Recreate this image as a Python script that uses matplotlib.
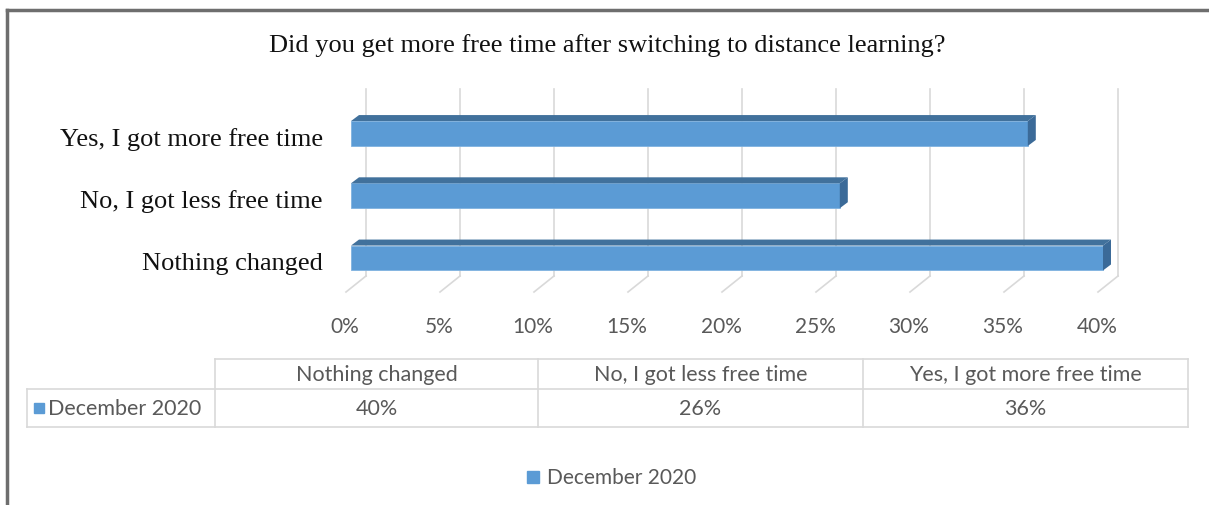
import matplotlib.pyplot as plt
from matplotlib.patches import Polygon, Rectangle
from matplotlib.lines import Line2D
import matplotlib.transforms as mtransforms

categories = ['Nothing changed', 'No, I got less free time', 'Yes, I got more free time']
values = [40, 26, 36]
series_name = 'December 2020'
ticks = [0, 5, 10, 15, 20, 25, 30, 35, 40]
title = 'Did you get more free time after switching to distance learning?'

W, H = 1209, 506
fig = plt.figure(figsize=(W / 100, H / 100), dpi=100)
fig.patch.set_facecolor('white')

def fx(px):
    return px / W

def fy(py):
    return 1 - py / H

serif = ['Liberation Serif', 'DejaVu Serif']
sans = ['Lato', 'DejaVu Sans']
grey_txt = '#595959'
grid_col = '#D9D9D9'
front_col = '#5B9BD5'
top_col = '#41719C'
side_col = '#3B6A98'

# outer frame (left and top edges only)
fig.add_artist(Line2D([fx(7), fx(7)], [fy(11), 0], color='#6E6E6E', lw=2.5))
fig.add_artist(Line2D([fx(7), 1], [fy(11), fy(11)], color='#6E6E6E', lw=2.5))

fig.text(fx(607), fy(46), title, ha='center', va='center',
         fontsize=19, family=serif, color='#111111')

# plot area: front plane of the bars
ax = fig.add_axes([fx(351), fy(277), fx(1103 - 351), (277 - 90) / H])
ax.set_xlim(0, 40)
ax.set_ylim(-0.289, 2.715)
ax.axis('off')

px_per_unit = ax.bbox.width / 40.0
bt = mtransforms.blended_transform_factory(ax.transData, ax.transAxes)

# back wall gridlines and floor lines
back_dx = 15 / px_per_unit
floor_dx = 20 / px_per_unit
floor_dy = 16 / ax.bbox.height
for t in ticks:
    ax.plot([t + back_dx, t + back_dx], [0, 1], transform=bt,
            color=grid_col, lw=1.2, clip_on=False, zorder=0)
    ax.plot([t + back_dx, t + back_dx - floor_dx], [0, -floor_dy], transform=bt,
            color=grid_col, lw=1.2, clip_on=False, zorder=0)
    ax.text(t - 6 / px_per_unit, -50 / ax.bbox.height, f'{t}%', transform=bt,
            ha='center', va='center', fontsize=15, family=sans, color=grey_txt)

# 3D bars
bar_h = 0.40
dx = 8 / px_per_unit
dy = 6 / (ax.bbox.height / (2.715 + 0.289))
label_shift = mtransforms.ScaledTranslation(0, -5 / 100, fig.dpi_scale_trans)
for i, v in enumerate(values):
    y0, y1 = i - bar_h / 2, i + bar_h / 2
    ax.barh(i, v, height=bar_h, color=front_col, edgecolor='#7FB2E0',
            linewidth=0.6, zorder=3, clip_on=False)
    ax.add_patch(Polygon([(0, y1), (v, y1), (v + dx, y1 + dy), (dx, y1 + dy)],
                         closed=True, facecolor=top_col, edgecolor='none',
                         zorder=3, clip_on=False))
    ax.add_patch(Polygon([(v, y0), (v, y1), (v + dx, y1 + dy), (v + dx, y0 + dy)],
                         closed=True, facecolor=side_col, edgecolor='none',
                         zorder=3, clip_on=False))
    ax.text(-28 / px_per_unit, i, categories[i], ha='right', va='center',
            fontsize=19, family=serif, color='#111111', clip_on=False,
            transform=ax.transData + label_shift)

# data table
t_top, t_mid, t_bot = 360, 390, 428
col_x = [215, 538, 863, 1188]
lines = [
    ([col_x[0], col_x[-1]], [t_top, t_top]),
    ([27, col_x[-1]], [t_mid, t_mid]),
    ([27, col_x[-1]], [t_bot, t_bot]),
    ([27, 27], [t_mid, t_bot]),
]
for cx in col_x:
    lines.append(([cx, cx], [t_top, t_bot]))
for xs, ys in lines:
    fig.add_artist(Line2D([fx(x) for x in xs], [fy(y) for y in ys],
                          color=grid_col, lw=1.2))
for j, cat in enumerate(categories):
    cxm = (col_x[j] + col_x[j + 1]) / 2
    fig.text(fx(cxm), fy((t_top + t_mid) / 2), cat, ha='center', va='center',
             fontsize=15.5, family=sans, color=grey_txt)
    fig.text(fx(cxm), fy((t_mid + t_bot) / 2), f'{values[j]}%', ha='center',
             va='center', fontsize=15.5, family=sans, color=grey_txt)
fig.add_artist(Rectangle((fx(34), fy(414)), fx(10), 10 / H, color=front_col))
fig.text(fx(48), fy(409), series_name, ha='left', va='center',
         fontsize=15.5, family=sans, color=grey_txt)

# legend
fig.add_artist(Rectangle((fx(527), fy(484)), fx(12), 12 / H, color=front_col))
fig.text(fx(547), fy(478), series_name, ha='left', va='center',
         fontsize=15, family=sans, color=grey_txt)

fig.savefig('out.png', dpi=100, facecolor='white')
